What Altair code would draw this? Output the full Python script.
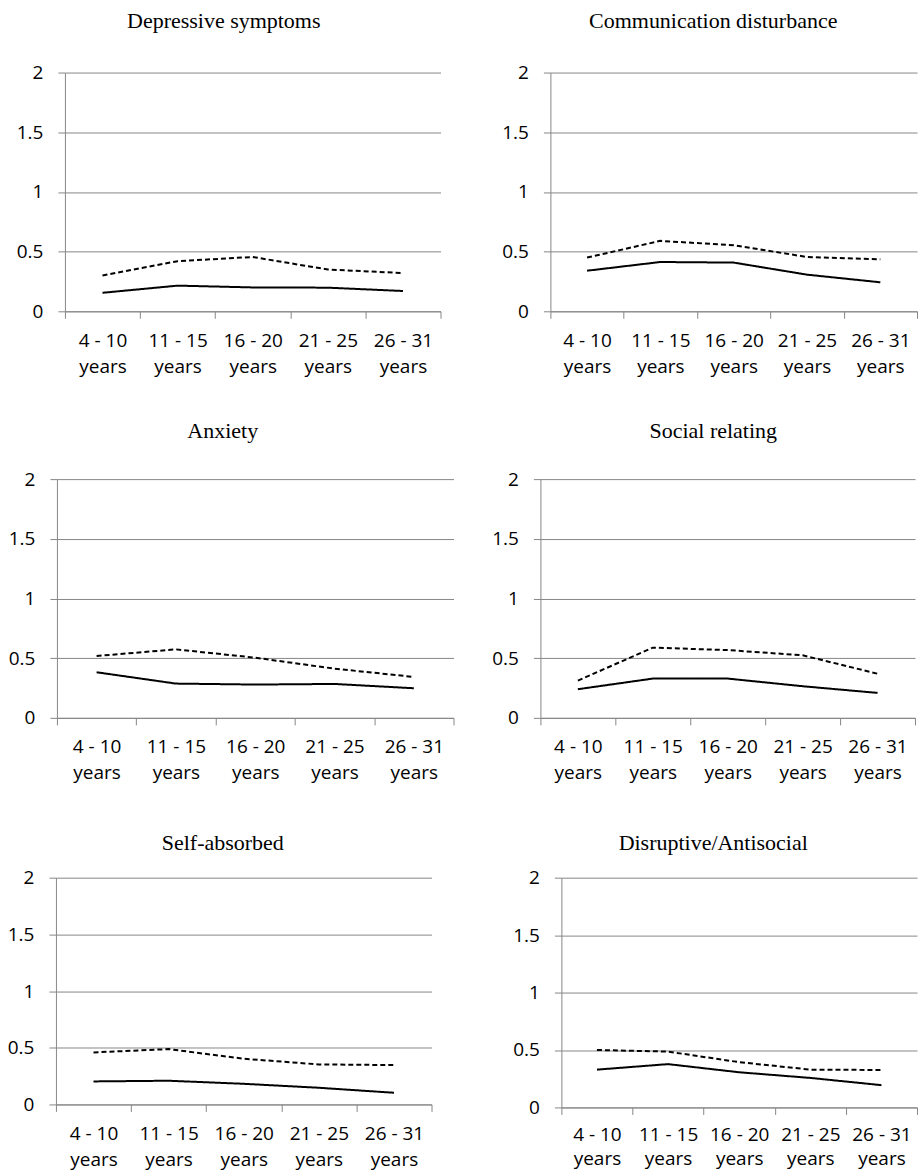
import altair as alt
import pandas as pd

AGES = ["4 - 10 years", "11 - 15 years", "16 - 20 years", "21 - 25 years", "26 - 31 years"]
SERIES = ["Series 1", "Series 2"]  # Series 1 = dashed, Series 2 = solid

depressive_dashed = [0.30, 0.42, 0.455, 0.35, 0.32]
depressive_solid = [0.155, 0.215, 0.20, 0.198, 0.17]

communication_dashed = [0.45, 0.59, 0.553, 0.455, 0.436]
communication_solid = [0.34, 0.413, 0.408, 0.307, 0.243]

anxiety_dashed = [0.518, 0.574, 0.504, 0.412, 0.343]
anxiety_solid = [0.382, 0.287, 0.279, 0.284, 0.248]

social_dashed = [0.312, 0.588, 0.568, 0.524, 0.37]
social_solid = [0.24, 0.329, 0.329, 0.265, 0.209]

selfabs_dashed = [0.459, 0.488, 0.403, 0.353, 0.347]
selfabs_solid = [0.203, 0.209, 0.182, 0.147, 0.103]

disruptive_dashed = [0.50, 0.486, 0.394, 0.329, 0.326]
disruptive_solid = [0.329, 0.377, 0.306, 0.257, 0.194]

Y_TICKS = [0, 0.5, 1, 1.5, 2]

GRID = "#878787"
LABEL_FONT = "Open Sans"
TITLE_FONT = "Liberation Serif"


def panel(title, dashed, solid, width, height, title_dx, title_offset,
          y_extent=50, x_label_pad=13, x_line_height=26):
    df = pd.DataFrame({
        "age": AGES * 2,
        "value": dashed + solid,
        "series": [SERIES[0]] * len(AGES) + [SERIES[1]] * len(AGES),
    })
    return alt.Chart(
        df,
        title=alt.TitleParams(
            text=title, font=TITLE_FONT, fontSize=22, fontWeight="normal",
            color="black", anchor="middle", frame="group", dx=title_dx,
            offset=title_offset, baseline="bottom",
        ),
    ).mark_line(color="black", strokeWidth=2).encode(
        x=alt.X(
            "age:N", sort=AGES,
            scale=alt.Scale(type="band", paddingInner=0, paddingOuter=0),
            axis=alt.Axis(
                title=None, labelAngle=0, grid=False, tickBand="extent",
                domainColor=GRID, tickColor=GRID, tickSize=7,
                labelPadding=x_label_pad,
                labelFont=LABEL_FONT, labelFontSize=19, labelColor="black",
                labelLineHeight=x_line_height,
                labelExpr="datum.label ? [replace(datum.label, ' years', ''), 'years'] : ''",
            ),
        ),
        y=alt.Y(
            "value:Q",
            scale=alt.Scale(domain=[0, 2], nice=False),
            axis=alt.Axis(
                title=None, values=Y_TICKS, format="~g", grid=True,
                gridColor=GRID, domainColor=GRID, tickColor=GRID, tickSize=7,
                labelPadding=15, labelFont=LABEL_FONT, labelFontSize=19,
                labelColor="black", minExtent=y_extent,
            ),
        ),
        strokeDash=alt.StrokeDash(
            "series:N",
            scale=alt.Scale(domain=SERIES, range=[[5, 3], [1, 0]]),
            legend=None,
        ),
    ).properties(width=width, height=height)


def spacer(width):
    # empty layout cell that only shifts a row to the right
    return alt.Chart(pd.DataFrame({"v": [0]})).mark_point(opacity=0, size=0).encode(
        x=alt.X("v:Q", axis=None), y=alt.Y("v:Q", axis=None)
    ).properties(width=width, height=1)


p1 = panel("Depressive symptoms", depressive_dashed, depressive_solid, 376, 239, -29, 8.5)
p2 = panel("Communication disturbance", communication_dashed, communication_solid, 367, 239, -20.5, 8.5,
           y_extent=109)
p3 = panel("Anxiety", anxiety_dashed, anxiety_solid, 397, 239, -32.5, 5)
p4 = panel("Social relating", social_dashed, social_solid, 375, 239, -14.5, 5, y_extent=86)
p5 = panel("Self-absorbed", selfabs_dashed, selfabs_solid, 376, 227, -21, -8)
p6 = panel("Disruptive/Antisocial", disruptive_dashed, disruptive_solid, 356, 230, -26, -8,
           y_extent=129, x_label_pad=11, x_line_height=24)

row1 = alt.hconcat(spacer(15), p1, p2, spacing=0)
row2 = alt.hconcat(spacer(7), p3, p4, spacing=0)
row3 = alt.hconcat(spacer(6), p5, p6, spacing=0)

chart = alt.vconcat(
    alt.vconcat(row1, row2, spacing=44),
    row3,
    spacing=49,
).configure_view(stroke=None).properties(
    padding={"left": 0, "top": 9, "right": 0, "bottom": 0}
)

chart.save("out.html", embed_options={"renderer": "svg", "actions": False})
